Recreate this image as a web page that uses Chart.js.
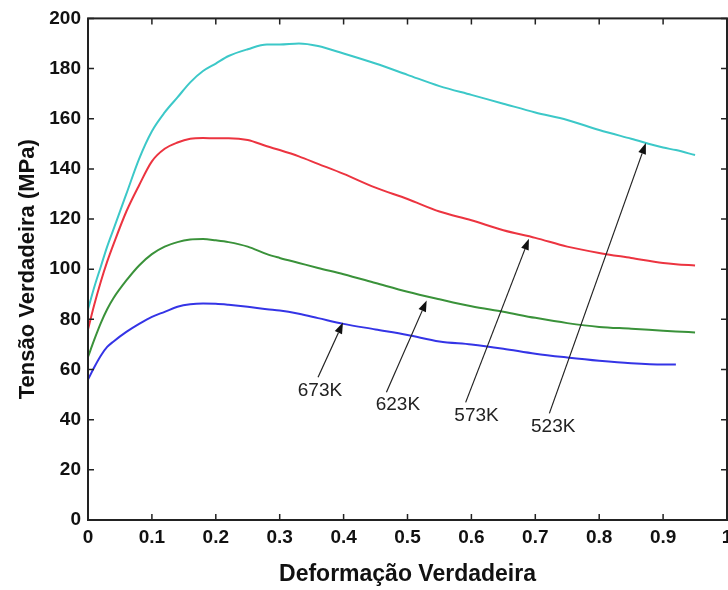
<!DOCTYPE html>
<html lang="pt">
<head>
<meta charset="UTF-8">
<title>Tensão x Deformação</title>
<script src="https://cdn.jsdelivr.net/npm/chart.js@4.4.0/dist/chart.umd.min.js"></script>
<style>
  body { margin: 0; background: #fff; }
  #wrap { width: 728px; height: 590px; overflow: hidden; }
  canvas { display: block; }
</style>
</head>
<body>
<div id="wrap"><canvas id="chart" width="760" height="590"></canvas></div>
<script>
// true strain grid shared by all curves
const strain = [0, 0.01, 0.02, 0.03, 0.04, 0.06, 0.08, 0.10, 0.12, 0.14, 0.16, 0.18, 0.20, 0.22, 0.25, 0.28, 0.30,
                0.33, 0.36, 0.40, 0.45, 0.50, 0.55, 0.60, 0.65, 0.70, 0.75, 0.80, 0.85, 0.90, 0.92, 0.95];

// true stress (MPa) per temperature
const stress523 = [84, 93, 101, 109, 116, 130, 144, 155, 162.5, 168.5, 174.5, 179, 182, 185, 187.7, 189.6, 189.6,
                   190, 189, 186, 182, 177.5, 173, 169.5, 166, 162.5, 159.5, 155.5, 152, 148.5, 147.5, 145.5];
const stress573 = [76, 86, 95, 103, 110, 123, 133.5, 143, 148, 150.5, 152, 152.3, 152.2, 152.2, 151.5, 149, 147.5,
                   145, 142, 138, 132.5, 128, 123, 119.5, 115.5, 112.5, 109, 106.5, 104.5, 102.5, 102, 101.5];
const stress623 = [65, 72, 78.5, 84, 88.5, 95.5, 101.5, 106, 109, 110.8, 111.8, 112, 111.5, 110.8, 109, 106, 104.5,
                   102.5, 100.5, 98, 94.5, 91, 88, 85.2, 83, 80.6, 78.5, 77, 76.3, 75.5, 75.2, 74.8];
const stress673 = [56, 61, 65.5, 69, 71.2, 75, 78.2, 81, 83, 85, 86, 86.3, 86.2, 85.8, 85, 84, 83.5,
                   82.2, 80.5, 78.2, 76, 73.8, 71.2, 70, 68.3, 66.3, 64.8, 63.5, 62.5, 62, 62, null];

const xTickLabels = ['0', '0.1', '0.2', '0.3', '0.4', '0.5', '0.6', '0.7', '0.8', '0.9', '1'];

// arrow annotations (data units): label, text position, tail, tip
const noteLabels = ['673K', '623K', '573K', '523K'];
const noteText = [[0.363, 51.5], [0.485, 45.9], [0.608, 41.5], [0.728, 37.2]];
const noteTail = [[0.360, 56.9], [0.467, 50.9], [0.591, 46.9], [0.722, 42.5]];
const noteTip  = [[0.399, 78.7], [0.530, 87.5], [0.690, 112.1], [0.873, 150.3]];

function series(values, color) {
    return {
        data: strain.map((x, i) => ({ x: x, y: values[i] })),
        borderColor: color,
        borderWidth: 2,
        pointRadius: 0,
        fill: false,
        spanGaps: false,
        cubicInterpolationMode: 'monotone'
    };
}

// frame + inward tick marks on all four sides
const framePlugin = {
    id: 'frame',
    afterDraw(chart) {
        const { ctx, chartArea: a, scales } = chart;
        ctx.save();
        ctx.strokeStyle = '#222';
        ctx.lineWidth = 1.5;
        ctx.beginPath();
        scales.x.ticks.forEach(t => {
            const px = scales.x.getPixelForValue(t.value);
            ctx.moveTo(px, a.bottom); ctx.lineTo(px, a.bottom - 6);
            ctx.moveTo(px, a.top); ctx.lineTo(px, a.top + 6);
        });
        scales.y.ticks.forEach(t => {
            const py = scales.y.getPixelForValue(t.value);
            ctx.moveTo(a.left, py); ctx.lineTo(a.left + 6, py);
            ctx.moveTo(a.right, py); ctx.lineTo(a.right - 6, py);
        });
        ctx.stroke();
        ctx.lineWidth = 2;
        ctx.strokeRect(a.left, a.top, a.right - a.left, a.bottom - a.top);
        ctx.restore();
    }
};

const arrowPlugin = {
    id: 'arrows',
    afterDatasetsDraw(chart) {
        const { ctx, scales } = chart;
        const X = v => scales.x.getPixelForValue(v);
        const Y = v => scales.y.getPixelForValue(v);
        ctx.save();
        noteLabels.forEach((lab, i) => {
            const x0 = X(noteTail[i][0]), y0 = Y(noteTail[i][1]);
            const x1 = X(noteTip[i][0]), y1 = Y(noteTip[i][1]);
            const ang = Math.atan2(y1 - y0, x1 - x0);
            const len = 11, half = 4;
            ctx.strokeStyle = '#222';
            ctx.fillStyle = '#111';
            ctx.lineWidth = 1.2;
            ctx.beginPath();
            ctx.moveTo(x0, y0);
            ctx.lineTo(x1 - len * Math.cos(ang), y1 - len * Math.sin(ang));
            ctx.stroke();
            ctx.beginPath();
            ctx.moveTo(x1, y1);
            ctx.lineTo(x1 - len * Math.cos(ang) + half * Math.sin(ang), y1 - len * Math.sin(ang) - half * Math.cos(ang));
            ctx.lineTo(x1 - len * Math.cos(ang) - half * Math.sin(ang), y1 - len * Math.sin(ang) + half * Math.cos(ang));
            ctx.closePath();
            ctx.fill();
            ctx.font = '19px "Liberation Sans", Arial, sans-serif';
            ctx.fillStyle = '#222';
            ctx.textAlign = 'center';
            ctx.textBaseline = 'middle';
            ctx.fillText(lab, X(noteText[i][0]), Y(noteText[i][1]));
        });
        ctx.restore();
    }
};

const tickFont = { family: '"Liberation Sans", Arial, sans-serif', size: 19, weight: 'bold' };
const titleFont = { family: '"Liberation Sans", Arial, sans-serif', size: 22, weight: 'bold' };

new Chart(document.getElementById('chart'), {
    type: 'line',
    data: {
        datasets: [
            series(stress523, '#3cc8c8'),
            series(stress573, '#ec3440'),
            series(stress623, '#3a923a'),
            series(stress673, '#3434e6')
        ]
    },
    options: {
        responsive: false,
        animation: false,
        layout: { padding: { left: 0, right: 33, top: 18, bottom: 0 } },
        plugins: { legend: { display: false }, tooltip: { enabled: false } },
        scales: {
            x: {
                type: 'linear',
                min: 0, max: 1,
                grid: { display: false, drawTicks: false },
                border: { display: false },
                ticks: {
                    stepSize: 0.1,
                    padding: 6,
                    color: '#111',
                    font: tickFont,
                    maxRotation: 0,
                    callback: (v, i) => xTickLabels[i]
                },
                title: {
                    display: true, text: 'Deformação Verdadeira', color: '#111',
                    font: { family: titleFont.family, size: 23, weight: 'bold' },
                    padding: { top: 0, bottom: 2 }
                },
                afterFit: s => { s.height = 70; }
            },
            y: {
                min: 0, max: 200,
                grid: { display: false, drawTicks: false },
                border: { display: false },
                ticks: { stepSize: 20, padding: 7, color: '#111', font: tickFont },
                title: { display: true, text: 'Tensão Verdadeira (MPa)', color: '#111', font: titleFont, padding: { top: 15, bottom: 0 } },
                afterFit: s => { s.width = 88; }
            }
        }
    },
    plugins: [framePlugin, arrowPlugin]
});
</script>
</body>
</html>
